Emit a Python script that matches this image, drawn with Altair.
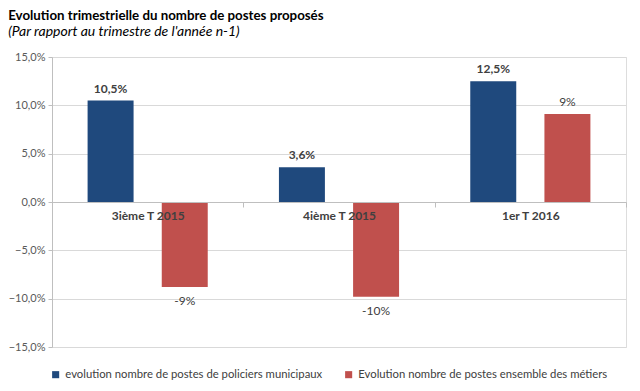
import altair as alt
import pandas as pd

categories = ["3ième T 2015", "4ième T 2015", "1er T 2016"]
series = [
    "evolution nombre de postes de policiers municipaux",
    "Evolution nombre de postes ensemble des métiers",
]
police_values = [10.5, 3.6, 12.5]
ensemble_values = [-8.8, -9.8, 9.1]
police_labels = ["10,5%", "3,6%", "12,5%"]
ensemble_labels = ["-9%", "-10%", "9%"]
colors = ["#1F497D", "#C0504D"]

rows = []
for c, v, l in zip(categories, police_values, police_labels):
    rows.append({"cat": c, "serie": series[0], "value": v, "label": l})
for c, v, l in zip(categories, ensemble_values, ensemble_labels):
    rows.append({"cat": c, "serie": series[1], "value": v, "label": l})
df = pd.DataFrame(rows)

FONT = "Lato"
H = 290

x = alt.X(
    "cat:N",
    sort=categories,
    title=None,
    scale=alt.Scale(paddingInner=0, paddingOuter=0),
    axis=alt.Axis(
        orient="bottom",
        offset=-H / 2,
        tickBand="extent",
        tickSize=5,
        tickColor="#BFBFBF",
        domainColor="#BFBFBF",
        labelAngle=0,
        labelFont=FONT,
        labelFontSize=12,
        labelFontWeight="bold",
        labelColor="#404040",
        labelPadding=3,
        grid=False,
        zindex=1,
    ),
)
xoff = alt.XOffset(
    "serie:N",
    sort=series,
    scale=alt.Scale(paddingInner=0.38, paddingOuter=0.48),
)
y = alt.Y(
    "value:Q",
    title=None,
    scale=alt.Scale(domain=[-15, 15], nice=False, zero=False),
    axis=alt.Axis(
        values=[-15, -10, -5, 0, 5, 10, 15],
        labelExpr="replace(format(datum.value, '.1f'), '.', ',') + '%'",
        labelFont=FONT,
        labelFontSize=11,
        labelColor="#595959",
        tickColor="#BFBFBF",
        domainColor="#BFBFBF",
        gridColor="#D9D9D9",
        tickSize=4,
        labelPadding=3,
    ),
)

bars = alt.Chart(df).mark_bar().encode(
    x=x,
    xOffset=xoff,
    y=y,
    color=alt.Color(
        "serie:N",
        sort=series,
        scale=alt.Scale(domain=series, range=colors),
        legend=alt.Legend(
            title=None,
            orient="none",
            legendX=-2,
            legendY=312,
            direction="horizontal",
            symbolType="square",
            symbolSize=50,
            symbolStrokeWidth=0,
            labelFont=FONT,
            labelFontSize=11.3,
            labelColor="#404040",
            columnPadding=20,
            labelLimit=400,
        ),
    ),
)

def text_layer(filter_expr, dy, weight):
    return alt.Chart(df).transform_filter(filter_expr).mark_text(
        dy=dy, font=FONT, fontSize=12, color="#404040", fontWeight=weight
    ).encode(
        x=alt.X("cat:N", sort=categories),
        xOffset=alt.XOffset("serie:N", sort=series),
        y="value:Q",
        text="label:N",
    )

police_text = text_layer(f"datum.serie == '{series[0]}'", -12, "bold")
ens_pos = text_layer(f"datum.serie == '{series[1]}' && datum.value >= 0", -12, "normal")
ens_neg = text_layer(f"datum.serie == '{series[1]}' && datum.value < 0", 14, "normal")

chart = (
    alt.layer(bars, police_text, ens_pos, ens_neg)
    .properties(
        width=574,
        height=H,
        title=alt.TitleParams(
            text="Evolution trimestrielle du nombre de postes proposés",
            subtitle="(Par rapport au trimestre de l'année n-1)",
            anchor="start",
            frame="bounds",
            font=FONT,
            fontSize=13.3,
            fontWeight="bold",
            color="#000000",
            subtitleFont=FONT,
            subtitleFontSize=14,
            subtitleFontStyle="italic",
            subtitleColor="#000000",
            subtitlePadding=3,
            offset=12,
        ),
        padding={"left": 0, "top": 0, "right": 0, "bottom": 0},
    )
    .configure_view(stroke=None)
    .configure(background="white")
)

chart.save("out.html", embed_options={"renderer": "svg", "actions": False})
